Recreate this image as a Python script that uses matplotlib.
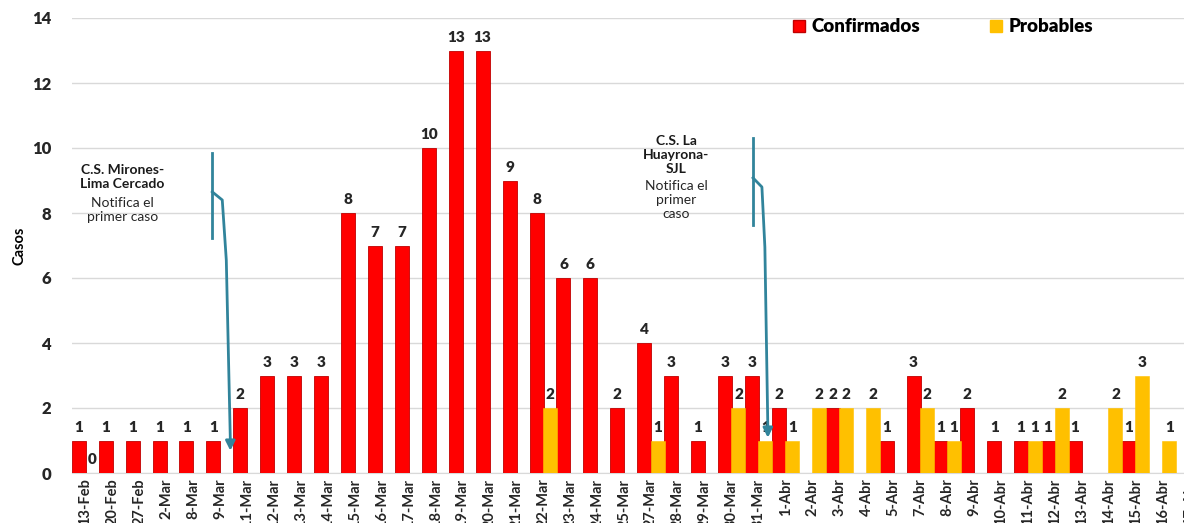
import numpy as np
import matplotlib.pyplot as plt
from matplotlib.patches import Patch

plt.rcParams['font.family'] = ['Lato', 'DejaVu Sans']

nan = np.nan
fechas = ['13-Feb', '20-Feb', '27-Feb', '2-Mar', '8-Mar', '9-Mar', '11-Mar', '12-Mar',
          '13-Mar', '14-Mar', '15-Mar', '16-Mar', '17-Mar', '18-Mar', '19-Mar', '20-Mar',
          '21-Mar', '22-Mar', '23-Mar', '24-Mar', '25-Mar', '27-Mar', '28-Mar', '29-Mar',
          '30-Mar', '31-Mar', '1-Abr', '2-Abr', '3-Abr', '4-Abr', '5-Abr', '7-Abr',
          '8-Abr', '9-Abr', '10-Abr', '11-Abr', '12-Abr', '13-Abr', '14-Abr', '15-Abr',
          '16-Abr', '17-Abr']
confirmados = [1, 1, 1, 1, 1, 1, 2, 3, 3, 3, 8, 7, 7, 10, 13, 13, 9, 8, 6, 6, 2, 4, 3, 1,
               3, 3, 2, nan, 2, nan, 1, 3, 1, 2, 1, 1, 1, 1, nan, 1, nan, nan]
probables = [0, nan, nan, nan, nan, nan, nan, nan, nan, nan, nan, nan, nan, nan, nan, nan,
             nan, 2, nan, nan, nan, 1, nan, nan, 2, 1, 1, 2, 2, 2, nan, 2, 1, nan, nan, 1,
             2, nan, 2, 3, 1, nan]

ROJO = '#FF0000'
AMARILLO = '#FFC000'
AZUL = '#31849B'

fig = plt.figure(figsize=(11.84, 5.23), dpi=100)
ax = fig.add_axes([72 / 1184, 50 / 523, 1131 / 1184, 455 / 523])

x = np.arange(len(fechas))
w = 0.52
b1 = ax.bar(x - 0.25, confirmados, w, color=ROJO, edgecolor='#C00000', linewidth=0.6, zorder=3)
b2 = ax.bar(x + 0.25, probables, w, color=AMARILLO, edgecolor='#FFC000', linewidth=0.4, zorder=3)

# etiquetas de valor
for bars, vals in ((b1, confirmados), (b2, probables)):
    for rect, v in zip(bars, vals):
        if np.isnan(v):
            continue
        ax.annotate(f'{int(v)}', (rect.get_x() + rect.get_width() / 2, v),
                    xytext=(0, 5), textcoords='offset points', ha='center', va='bottom',
                    fontsize=11, fontweight='heavy', color='#262626')

ax.set_xlim(-0.5, len(fechas) - 0.5)
ax.set_ylim(0, 14)
ax.set_yticks(range(0, 15, 2))
ax.set_xticks(x)
ax.set_xticklabels(fechas, rotation=90, fontsize=10.5, fontweight='bold')
for lab in ax.get_yticklabels():
    lab.set_fontweight('heavy')
    lab.set_fontsize(12)
ax.tick_params(axis='both', length=0, colors='#262626')
ax.tick_params(axis='y', pad=15)
ax.tick_params(axis='x', pad=4)
ax.grid(axis='y', color='#D9D9D9', linewidth=1, zorder=0)
for s in ('top', 'right', 'left'):
    ax.spines[s].set_visible(False)
ax.spines['bottom'].set_color('#D9D9D9')
ax.set_ylabel('Casos', fontsize=10.5, fontweight='bold', labelpad=4)

# anotaciones del primer caso
ax.text(1.37, 9.5, 'C.S. Mirones-\nLima Cercado', ha='center', va='top',
        fontsize=10, fontweight='bold', linespacing=1.2, color='#1a1a1a')
ax.text(1.37, 8.5, 'Notifica el\nprimer caso', ha='center', va='top',
        fontsize=10, linespacing=1.2, color='#262626')
ax.plot([4.71, 4.71], [9.85, 7.23], color=AZUL, lw=2, zorder=5)
ax.plot([4.71, 5.08, 5.23, 5.38], [8.65, 8.4, 6.55, 1.0], color=AZUL, lw=2, zorder=5)
ax.annotate('', xy=(5.38, 0.6), xytext=(5.38, 1.1),
            arrowprops=dict(arrowstyle='-|>', color=AZUL, lw=2, mutation_scale=14), zorder=5)

ax.text(21.93, 10.4, 'C.S. La\nHuayrona-\nSJL', ha='center', va='top',
        fontsize=10, fontweight='bold', linespacing=1.2, color='#1a1a1a')
ax.text(21.93, 9.0, 'Notifica el\nprimer\ncaso', ha='center', va='top',
        fontsize=10, linespacing=1.2, color='#262626')
ax.plot([24.79, 24.79], [10.31, 7.63], color=AZUL, lw=2, zorder=5)
ax.plot([24.79, 25.12, 25.23, 25.34], [9.08, 8.8, 6.95, 1.4], color=AZUL, lw=2, zorder=5)
ax.annotate('', xy=(25.34, 1.0), xytext=(25.34, 1.5),
            arrowprops=dict(arrowstyle='-|>', color=AZUL, lw=2, mutation_scale=14), zorder=5)

handles = [Patch(facecolor=ROJO, edgecolor='#C00000', label='Confirmados'),
           Patch(facecolor=AMARILLO, edgecolor=AMARILLO, label='Probables')]
fig.legend(handles=handles, loc='center left', bbox_to_anchor=(776 / 1184, 496 / 523),
           ncol=2, frameon=False, prop={'weight': 'heavy', 'size': 13.5},
           handlelength=0.65, handleheight=0.65, handletextpad=0.35, columnspacing=3.7)

fig.savefig('out.png', dpi=100)
